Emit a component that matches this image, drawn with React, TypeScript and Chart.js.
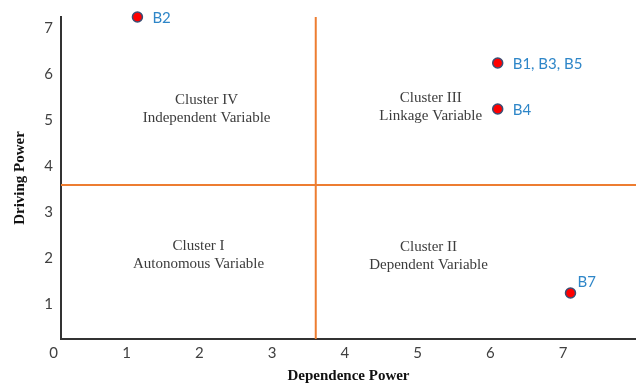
import React, { useEffect, useRef } from "react";
import { Chart, registerables } from "chart.js";

Chart.register(...registerables);

const pointLabels = ["B2", "B1, B3, B5", "B4", "B7"];
const pointX = [1.15, 6.1, 6.1, 7.1];
const pointY = [7.25, 6.25, 5.25, 1.25];
const labelSide = ["right", "right", "right", "above"];

const xTicks = [0, 1, 2, 3, 4, 5, 6, 7];
const yTicks = [1, 2, 3, 4, 5, 6, 7];

const dividerX = 3.6;
const dividerY = 3.6;

const clusterTitles = ["Cluster IV", "Cluster III", "Cluster I", "Cluster II"];
const clusterNames = ["Independent Variable", "Linkage Variable", "Autonomous Variable", "Dependent Variable"];
const clusterX = [2.1, 5.18, 1.99, 5.15];
const clusterY = [5.25, 5.29, 2.08, 2.05];

const X_MIN = 0.1;
const X_MAX = 8;
const Y_MIN = 0.25;
const Y_MAX = 7.25;

const textPlugin = {
  id: "textPlugin",
  afterDatasetsDraw(chart: any) {
    const ctx = chart.ctx;
    const xs = chart.scales.x;
    const ys = chart.scales.y;
    ctx.save();
    ctx.font = '15px "Liberation Serif", "Times New Roman", serif';
    ctx.fillStyle = "#3c3c3c";
    ctx.textAlign = "center";
    ctx.textBaseline = "middle";
    for (let i = 0; i < clusterTitles.length; i++) {
      const px = xs.getPixelForValue(clusterX[i]);
      const py = ys.getPixelForValue(clusterY[i]);
      ctx.fillText(clusterTitles[i], px, py - 9);
      ctx.fillText(clusterNames[i], px, py + 9);
    }
    ctx.font = '15px Lato, "Open Sans", sans-serif';
    ctx.fillStyle = "#2E86C8";
    ctx.textAlign = "left";
    for (let i = 0; i < pointLabels.length; i++) {
      const px = xs.getPixelForValue(pointX[i]);
      const py = ys.getPixelForValue(pointY[i]);
      if (labelSide[i] === "above") {
        ctx.fillText(pointLabels[i], px + 7, py - 11);
      } else {
        ctx.fillText(pointLabels[i], px + 15, py + 1);
      }
    }
    ctx.restore();
  },
};

export default function App() {
  const ref = useRef<HTMLCanvasElement | null>(null);
  useEffect(() => {
    document.body.style.margin = "0";
    const canvas = ref.current;
    if (!canvas) return;
    const chart = new Chart(canvas, {
      type: "scatter",
      data: {
        datasets: [
          {
            label: "Points",
            data: pointX.map((x, i) => ({ x, y: pointY[i] })),
            backgroundColor: "#FF0000",
            borderColor: "#3B4E74",
            borderWidth: 1.5,
            pointRadius: 5,
            clip: false,
            order: 0,
          },
          {
            label: "Vertical",
            type: "line",
            data: [
              { x: dividerX, y: Y_MIN },
              { x: dividerX, y: Y_MAX },
            ],
            borderColor: "#ED7D31",
            borderWidth: 2,
            pointRadius: 0,
            showLine: true,
            fill: false,
            order: 1,
          },
          {
            label: "Horizontal",
            type: "line",
            data: [
              { x: X_MIN, y: dividerY },
              { x: X_MAX, y: dividerY },
            ],
            borderColor: "#ED7D31",
            borderWidth: 2,
            pointRadius: 0,
            showLine: true,
            fill: false,
            order: 1,
          },
        ] as any,
      },
      options: {
        animation: false,
        responsive: false,
        maintainAspectRatio: false,
        layout: { autoPadding: false, padding: { top: 17, right: 0, left: 0, bottom: 0 } },
        plugins: {
          legend: { display: false },
          tooltip: { enabled: false },
        },
        scales: {
          x: {
            type: "linear",
            min: X_MIN,
            max: X_MAX,
            afterBuildTicks: (scale: any) => {
              scale.ticks = xTicks.map((v) => ({ value: v }));
            },
            afterFit: (scale: any) => {
              scale.height = 46;
            },
            grid: { display: false, drawTicks: false },
            border: { display: true, color: "#333333", width: 2 },
            ticks: {
              color: "#404040",
              font: { family: 'Lato, "Open Sans", sans-serif', size: 15 },
              padding: 5,
              maxRotation: 0,
              autoSkip: false,
            },
            title: {
              display: true,
              text: "Dependence Power",
              color: "#111111",
              font: { family: '"Liberation Serif", "Times New Roman", serif', size: 15, weight: "bold" },
              padding: { top: 2, bottom: 0 },
            },
          },
          y: {
            type: "linear",
            min: Y_MIN,
            max: Y_MAX,
            afterBuildTicks: (scale: any) => {
              scale.ticks = yTicks.map((v) => ({ value: v }));
            },
            afterFit: (scale: any) => {
              scale.width = 61;
            },
            grid: { display: false, drawTicks: false },
            border: { display: true, color: "#333333", width: 2 },
            ticks: {
              color: "#404040",
              font: { family: 'Lato, "Open Sans", sans-serif', size: 15 },
              padding: 8,
              autoSkip: false,
            },
            title: {
              display: true,
              text: "Driving Power",
              color: "#111111",
              font: { family: '"Liberation Serif", "Times New Roman", serif', size: 15, weight: "bold" },
              padding: { top: 11, bottom: 0 },
            },
          },
        },
      } as any,
      plugins: [textPlugin],
    });
    return () => chart.destroy();
  }, []);
  return (
    <div style={{ position: "absolute", left: 0, top: 0, width: 636, height: 385, background: "#fff" }}>
      <canvas ref={ref} width={636} height={385} style={{ width: 636, height: 385, display: "block" }} />
    </div>
  );
}
